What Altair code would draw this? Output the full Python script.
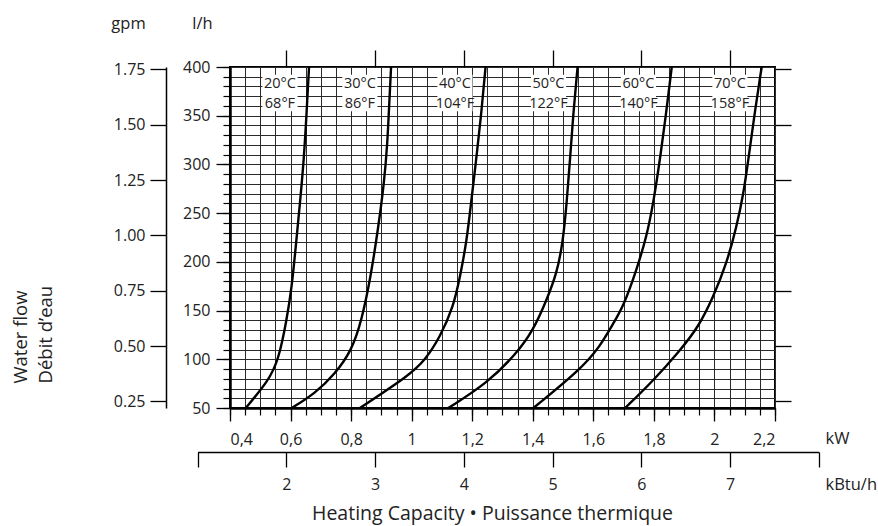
import altair as alt
import numpy as np
import pandas as pd

# ---- curve data: heating capacity (kW) vs. water flow (l/h) per supply temperature ----
temps_c = [20, 30, 40, 50, 60, 70]
temps_f = [68, 86, 104, 122, 140, 158]

kw_20 = [0.452, 0.527, 0.560, 0.587, 0.604, 0.617, 0.631, 0.644, 0.653, 0.661]
lph_20 = [50, 78, 99, 140, 174, 215, 260, 305, 353, 400]

kw_30 = [0.604, 0.681, 0.747, 0.802, 0.835, 0.865, 0.890, 0.909, 0.920, 0.926, 0.932]
lph_30 = [50, 65, 85, 109, 140, 185, 236, 281, 322, 363, 400]

kw_40 = [0.829, 0.994, 1.044, 1.094, 1.138, 1.160, 1.182, 1.196, 1.213, 1.229, 1.244]
lph_40 = [50, 84, 99, 123, 154, 185, 222, 260, 305, 349, 400]

kw_50 = [1.121, 1.248, 1.347, 1.402, 1.446, 1.479, 1.499, 1.512, 1.523, 1.534, 1.548]
lph_50 = [50, 75, 106, 130, 161, 188, 219, 260, 305, 353, 400]

kw_60 = [1.402, 1.556, 1.622, 1.666, 1.699, 1.743, 1.776, 1.798, 1.820, 1.839, 1.859]
lph_60 = [50, 89, 113, 137, 154, 192, 226, 260, 305, 349, 400]

kw_70 = [1.705, 1.798, 1.886, 1.947, 1.996, 2.040, 2.073, 2.096, 2.112, 2.131, 2.156]
lph_70 = [50, 78, 109, 133, 164, 198, 236, 270, 305, 349, 400]

# curve label anchors (kW centre, l/h of the °C line and of the °F line)
label_kw = [0.565, 0.829, 1.143, 1.452, 1.749, 2.051]
label_lph_c = [383, 383, 383, 383, 383, 383]
label_lph_f = [362.5, 362.5, 362.5, 362.5, 362.5, 362.5]

# axis ticks
kw_ticks = [0.4, 0.6, 0.8, 1.0, 1.2, 1.4, 1.6, 1.8, 2.0, 2.2]
lph_ticks = [50, 100, 150, 200, 250, 300, 350, 400]
kw_minor = np.round(np.arange(0.4, 2.2001, 0.05), 2).tolist()
lph_minor = list(range(50, 401, 10))
gpm_ticks = [0.25, 0.50, 0.75, 1.00, 1.25, 1.50, 1.75]
kbtu_ticks = [1, 2, 3, 4, 5, 6, 7, 8]
kbtu_labelled = [2, 3, 4, 5, 6, 7]

# unit conversions
KBTU_PER_KW = 3.412
LPH_PER_GPM = 227.12

series = [kw_20, kw_30, kw_40, kw_50, kw_60, kw_70]
flows = [lph_20, lph_30, lph_40, lph_50, lph_60, lph_70]
rows = []
for t, xs, ys in zip(temps_c, series, flows):
    for xv, yv in zip(xs, ys):
        rows.append({"temp": t, "kw": xv, "lph": yv})
curves = pd.DataFrame(rows)

labels = pd.DataFrame({
    "kw": label_kw,
    "lph_c": label_lph_c,
    "lph_f": label_lph_f,
    "c_text": [f"{t}°C" for t in temps_c],
    "f_text": [f"{t}°F" for t in temps_f],
})

W, H = 545, 341
FONT = "Open Sans"
INK = "#222222"
GRID = "#2a2a2a"

px_per_kw = W / (kw_ticks[-1] - kw_ticks[0])


def kbtu_px(v):
    return (v / KBTU_PER_KW - kw_ticks[0]) * px_per_kw


kw_scale = alt.Scale(domain=[0.4, 2.2], nice=False, zero=False)
lph_scale = alt.Scale(domain=[50, 400], nice=False, zero=False)
kbtu_scale = alt.Scale(domain=[1, 8], range=[kbtu_px(1), kbtu_px(8)], nice=False, zero=False)
gpm_scale = alt.Scale(domain=[50 / LPH_PER_GPM, 400 / LPH_PER_GPM], nice=False, zero=False)

# ---- main panel: label boxes, curves and curve labels ----
boxes = alt.Chart(labels).transform_calculate(
    x1="datum.kw - 0.058", x2="datum.kw + 0.058",
    y1="datum.lph_f - 8", y2="datum.lph_c + 9",
).mark_rect(color="white").encode(
    x=alt.X("x1:Q", scale=kw_scale), x2="x2:Q",
    y=alt.Y("y1:Q", scale=lph_scale), y2="y2:Q",
)

lines = alt.Chart(curves).mark_line(
    color="black", strokeWidth=2.4, interpolate="basis"
).encode(
    x=alt.X("kw:Q", scale=kw_scale, axis=alt.Axis(
        orient="bottom", values=kw_ticks, tickSize=13, tickWidth=1.3,
        domainWidth=2.5, grid=False, labelPadding=23, labelBaseline="alphabetic",
        labelExpr="replace(format(datum.value, '.1~f'), '.', ',')",
        title="kW", titleX=595, titleY=35, titleAngle=0,
        titleAlign="left", titleBaseline="alphabetic",
    )),
    y=alt.Y("lph:Q", scale=lph_scale, axis=alt.Axis(
        orient="left", values=lph_ticks, tickSize=14, tickWidth=1.3,
        domainWidth=2.5, grid=False, labelPadding=6,
        title="l/h", titleX=-28, titleY=-39, titleAngle=0,
        titleAlign="center", titleBaseline="alphabetic",
    )),
    detail="temp:N",
)

text_c = alt.Chart(labels).mark_text(font=FONT, fontSize=14.5, color=INK).encode(
    x=alt.X("kw:Q", scale=kw_scale), y=alt.Y("lph_c:Q", scale=lph_scale), text="c_text:N"
)
text_f = alt.Chart(labels).mark_text(font=FONT, fontSize=14.5, color=INK).encode(
    x=alt.X("kw:Q", scale=kw_scale), y=alt.Y("lph_f:Q", scale=lph_scale), text="f_text:N"
)

main = alt.layer(boxes, lines, text_c, text_f)

# ---- minor ticks and the fine grid ----
minor = alt.Chart(curves).mark_point(opacity=0).encode(
    x=alt.X("kw:Q", scale=kw_scale, axis=alt.Axis(
        orient="bottom", values=kw_minor, tickSize=7, tickWidth=1.2,
        labels=False, domain=False, grid=True, gridColor=GRID, gridWidth=1, title=None,
    )),
    y=alt.Y("lph:Q", scale=lph_scale, axis=alt.Axis(
        orient="left", values=lph_minor, tickSize=7, tickWidth=1.2,
        labels=False, domain=False, grid=True, gridColor=GRID, gridWidth=1, title=None,
    )),
)

# ---- secondary units: kBtu/h below, gpm on the left ----
imperial = alt.Chart(curves).transform_calculate(
    kbtu=f"datum.kw * {KBTU_PER_KW}", gpm=f"datum.lph / {LPH_PER_GPM}"
).mark_point(opacity=0).encode(
    x=alt.X("kbtu:Q", scale=kbtu_scale, axis=alt.Axis(
        orient="bottom", offset=44, values=kbtu_ticks, tickSize=15, tickWidth=1.3,
        domainWidth=1.5, grid=False, labelPadding=22, labelBaseline="alphabetic",
        labelExpr="datum.value == 1 || datum.value == 8 ? '' : datum.label",
        title="kBtu/h", titleX=595, titleY=37, titleAngle=0,
        titleAlign="left", titleBaseline="alphabetic",
    )),
    y=alt.Y("gpm:Q", scale=gpm_scale, axis=alt.Axis(
        orient="left", offset=64, values=gpm_ticks, tickSize=16, tickWidth=1.3,
        domainWidth=1.5, grid=False, labelPadding=5, format=".2f",
        title="gpm", titleX=-38, titleY=-39, titleAngle=0,
        titleAlign="center", titleBaseline="alphabetic",
    )),
)

# ---- mirrored ticks on top and right, carrying the overall titles ----
mirror = alt.Chart(curves).transform_calculate(
    kbtu=f"datum.kw * {KBTU_PER_KW}", gpm=f"datum.lph / {LPH_PER_GPM}"
).mark_point(opacity=0).encode(
    x=alt.X("kbtu:Q", scale=kbtu_scale, axis=alt.Axis(
        orient="top", values=kbtu_labelled, tickSize=17, tickWidth=1.3,
        labels=False, domain=False, grid=False,
        title="Heating Capacity • Puissance thermique", titleX=262, titleY=452,
        titleAngle=0, titleAlign="center", titleBaseline="alphabetic", titleFontSize=19.5,
    )),
    y=alt.Y("gpm:Q", scale=gpm_scale, axis=alt.Axis(
        orient="right", values=gpm_ticks, tickSize=16, tickWidth=1.3,
        labels=False, domain=False, grid=False,
        title=["Water flow", "Débit d’eau"], titleX=-749, titleY=316,
        titleAngle=270, titleAlign="left", titleBaseline="alphabetic",
        titleLineHeight=25, titleFontSize=18.5,
    )),
)

chart = alt.layer(minor, imperial, mirror, main).resolve_scale(
    x="independent", y="independent"
).resolve_axis(
    x="independent", y="independent"
).properties(
    width=W, height=H,
    autosize=alt.AutoSizeParams(type="none"),
    padding={"left": 230, "top": 67, "right": 878 - 230 - W, "bottom": 526 - 67 - H},
    background="white",
).configure_view(
    stroke="black", strokeWidth=2,
).configure_axis(
    labelFont=FONT, labelFontSize=16, labelColor=INK,
    titleFont=FONT, titleFontSize=16.5, titleColor=INK, titleFontWeight="normal",
    tickColor="black", domainColor="black",
)

chart.save("out.html", embed_options={"renderer": "svg", "actions": False})
